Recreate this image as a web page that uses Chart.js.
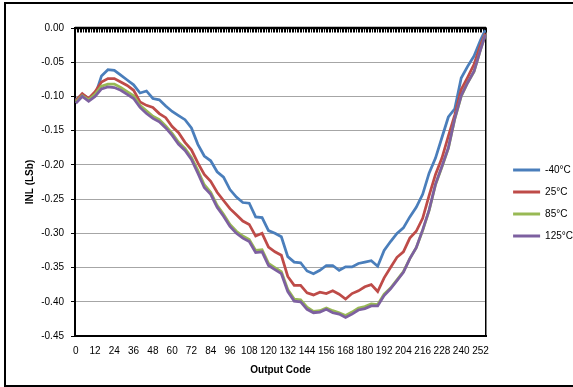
<!DOCTYPE html>
<html lang="en">
<head>
<meta charset="UTF-8">
<title>INL vs Output Code</title>
<script src="https://cdn.jsdelivr.net/npm/chart.js"></script>
<style>
    html, body { margin: 0; padding: 0; background: #fff; overflow: hidden; }
    #wrap { position: relative; width: 573px; height: 387px; overflow: hidden; }
    #chart { position: absolute; left: 0; top: 0; }
    #frame { position: absolute; left: 4px; top: 2px; width: 600px; height: 381px; border: 2px solid #000; pointer-events: none; }
</style>
</head>
<body>
<div id="wrap">
    <canvas id="chart" width="583" height="387"></canvas>
    <div id="frame"></div>
</div>
<script>
const codes = [0, 4, 8, 12, 16, 20, 24, 28, 32, 36, 40, 44, 48, 52, 56, 60,
    64, 68, 72, 76, 80, 84, 88, 92, 96, 100, 104, 108, 112, 116, 120, 124,
    128, 132, 136, 140, 144, 148, 152, 156, 160, 164, 168, 172, 176, 180, 184, 188,
    192, 196, 200, 204, 208, 212, 216, 220, 224, 228, 232, 236, 240, 244, 248, 252, 255];

// INL (LSb) per temperature
const inlM40 = [-0.105, -0.097, -0.103, -0.099, -0.070, -0.061, -0.062, -0.069, -0.076, -0.083, -0.095, -0.092, -0.103, -0.105, -0.114, -0.122,
    -0.128, -0.134, -0.146, -0.170, -0.187, -0.194, -0.210, -0.218, -0.236, -0.247, -0.255, -0.256, -0.276, -0.277, -0.296, -0.300,
    -0.305, -0.334, -0.342, -0.343, -0.355, -0.359, -0.354, -0.347, -0.347, -0.354, -0.349, -0.349, -0.344, -0.342, -0.340, -0.348,
    -0.325, -0.312, -0.300, -0.292, -0.276, -0.262, -0.243, -0.212, -0.190, -0.160, -0.130, -0.118, -0.073, -0.056, -0.041, -0.018, -0.003];
const inl25 = [-0.106, -0.096, -0.103, -0.093, -0.079, -0.074, -0.074, -0.079, -0.084, -0.091, -0.108, -0.113, -0.116, -0.125, -0.131, -0.144,
    -0.153, -0.167, -0.178, -0.197, -0.214, -0.224, -0.240, -0.252, -0.264, -0.273, -0.282, -0.287, -0.304, -0.300, -0.320, -0.327,
    -0.332, -0.363, -0.376, -0.376, -0.387, -0.390, -0.386, -0.388, -0.384, -0.389, -0.396, -0.388, -0.384, -0.378, -0.375, -0.385,
    -0.365, -0.350, -0.335, -0.327, -0.307, -0.297, -0.278, -0.245, -0.214, -0.190, -0.158, -0.127, -0.090, -0.072, -0.053, -0.025, -0.008];
const inl85 = [-0.108, -0.099, -0.105, -0.097, -0.085, -0.082, -0.082, -0.087, -0.093, -0.099, -0.113, -0.121, -0.129, -0.134, -0.143, -0.154,
    -0.167, -0.176, -0.189, -0.208, -0.229, -0.240, -0.259, -0.272, -0.287, -0.297, -0.304, -0.309, -0.325, -0.324, -0.344, -0.350,
    -0.356, -0.382, -0.396, -0.397, -0.408, -0.414, -0.413, -0.409, -0.413, -0.416, -0.420, -0.415, -0.409, -0.407, -0.403, -0.404,
    -0.389, -0.380, -0.368, -0.356, -0.337, -0.321, -0.296, -0.267, -0.229, -0.203, -0.176, -0.133, -0.100, -0.080, -0.064, -0.032, -0.010];
const inl125 = [-0.110, -0.100, -0.107, -0.100, -0.089, -0.086, -0.087, -0.091, -0.097, -0.103, -0.116, -0.125, -0.132, -0.137, -0.146, -0.157,
    -0.170, -0.179, -0.192, -0.212, -0.233, -0.243, -0.262, -0.275, -0.290, -0.300, -0.307, -0.312, -0.328, -0.327, -0.347, -0.353,
    -0.359, -0.385, -0.399, -0.400, -0.411, -0.416, -0.415, -0.411, -0.416, -0.418, -0.423, -0.418, -0.412, -0.410, -0.406, -0.406,
    -0.391, -0.381, -0.369, -0.357, -0.337, -0.321, -0.295, -0.266, -0.228, -0.202, -0.175, -0.132, -0.099, -0.080, -0.063, -0.032, -0.010];

const seriesNames = ['-40°C', '25°C', '85°C', '125°C'];
const seriesColors = ['#4a7ebb', '#be4b48', '#98b954', '#7d60a0'];

// tick labels
const xTicks = [0, 12, 24, 36, 48, 60, 72, 84, 96, 108, 120, 132, 144, 156, 168, 180, 192, 204, 216, 228, 240, 252];
const yTicks = [-0.45, -0.40, -0.35, -0.30, -0.25, -0.20, -0.15, -0.10, -0.05, 0];

const FONT = "'Liberation Sans', Arial, sans-serif";

// thick axis line with a tick per code, along the 0.00 line
const topAxisBand = {
    id: 'topAxisBand',
    beforeDatasetsDraw(chart) {
        const { ctx, chartArea, scales } = chart;
        const x = scales.x;
        ctx.save();
        ctx.strokeStyle = '#000';
        ctx.lineWidth = 1;
        ctx.beginPath();
        for (let c = 0; c <= 256; c++) {
            const px = Math.round(x.getPixelForValue(c - 0.5)) + 0.5;
            ctx.moveTo(px, chartArea.top);
            ctx.lineTo(px, chartArea.top + 4.5);
        }
        ctx.stroke();
        ctx.lineWidth = 2.5;
        ctx.beginPath();
        ctx.moveTo(chartArea.left, chartArea.top);
        ctx.lineTo(chartArea.right, chartArea.top);
        ctx.stroke();
        ctx.restore();
    }
};

const allSeries = [inlM40, inl25, inl85, inl125];
const datasets = allSeries.map((vals, i) => ({
    label: seriesNames[i],
    data: codes.map((c, k) => ({ x: c, y: vals[k] })),
    borderColor: seriesColors[i],
    backgroundColor: seriesColors[i],
    borderWidth: 2.75,
    pointRadius: 0,
    tension: 0,
    order: 4 - i
}));

new Chart(document.getElementById('chart'), {
    type: 'line',
    data: { datasets: datasets },
    options: {
        responsive: false,
        animation: false,
        layout: { padding: { left: 0, right: 0, top: 28, bottom: 9 } },
        plugins: {
            tooltip: { enabled: false },
            legend: {
                position: 'right',
                align: 'center',
                labels: {
                    boxWidth: 27,
                    boxHeight: 3,
                    padding: 12,
                    color: '#000',
                    font: { family: FONT, size: 10 },
                    sort: (a, b) => a.datasetIndex - b.datasetIndex,
                    generateLabels(chart) {
                        return Chart.defaults.plugins.legend.labels.generateLabels(chart)
                            .map(item => ({ ...item, lineWidth: 0, fillStyle: item.strokeStyle }));
                    }
                }
            }
        },
        scales: {
            x: {
                type: 'linear',
                min: -0.5,
                max: 255.5,
                afterBuildTicks: axis => { axis.ticks = xTicks.map(v => ({ value: v })); },
                afterFit: axis => { axis.height = 42; },
                ticks: {
                    autoSkip: false,
                    maxRotation: 0,
                    padding: 9,
                    color: '#000',
                    font: { family: FONT, size: 10 },
                    callback: v => String(v)
                },
                grid: { display: false, drawTicks: false },
                border: { display: true, color: '#000', width: 2 },
                title: {
                    display: true,
                    text: 'Output Code',
                    color: '#000',
                    font: { family: FONT, size: 10, weight: 'bold' },
                    padding: { top: 2, bottom: 2 }
                }
            },
            y: {
                min: -0.45,
                max: 0,
                afterBuildTicks: axis => { axis.ticks = yTicks.map(v => ({ value: v })); },
                afterFit: axis => { axis.width = 75; },
                ticks: {
                    padding: 7,
                    color: '#000',
                    font: { family: FONT, size: 10 },
                    callback: v => v.toFixed(2)
                },
                grid: { color: '#a6a6a6', lineWidth: 1, tickColor: '#000', tickLength: 4 },
                border: { display: true, color: '#000', width: 2 },
                title: {
                    display: true,
                    text: 'INL (LSb)',
                    color: '#000',
                    font: { family: FONT, size: 10, weight: 'bold' },
                    padding: { top: 24, bottom: 0 }
                }
            },
            y2: {
                position: 'right',
                min: -0.45,
                max: 0,
                afterFit: axis => { axis.width = 15; },
                ticks: { display: false },
                grid: { display: false, drawTicks: false },
                border: { display: true, color: '#000', width: 1.5 }
            }
        }
    },
    plugins: [topAxisBand]
});
</script>
</body>
</html>
